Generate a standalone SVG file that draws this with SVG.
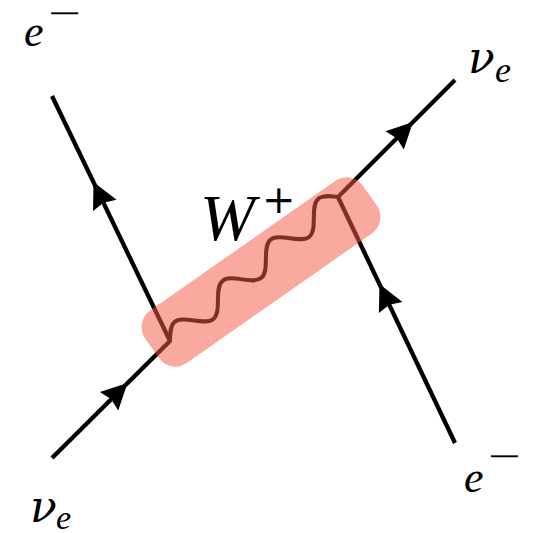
<svg xmlns="http://www.w3.org/2000/svg" width="541" height="533" viewBox="0 0 541 533">
  <defs>
    <style>
      .fermion { stroke: #000; stroke-width: 4.3; fill: none; stroke-linecap: butt; }
      .boson { stroke: #000; stroke-width: 4; fill: none; stroke-linecap: round; }
      .arrow { fill: #000; }
      .lbl { font-family: "Liberation Serif", "DejaVu Serif", serif; font-style: italic; fill: #000; }
      .greek { font-family: "DejaVu Serif", "Liberation Serif", serif; font-style: italic; fill: #000; }
      .sym { font-family: "DejaVu Serif", serif; font-style: normal; fill: #000; }
      .minus { font-family: "DejaVu Serif", serif; font-style: normal; fill: #000; stroke: #000; stroke-width: 0.4; }
    </style>
    <path id="arrowhead" d="M0,0 L-26,-13 L-23,0 L-26,13 Z"/>
  </defs>
  <rect width="541" height="533" fill="#fff"/>

  <g id="connectors">
    <line class="fermion" x1="52" y1="96" x2="170" y2="341"/>
    <line class="fermion" x1="52" y1="458" x2="170" y2="341"/>
    <line class="fermion" x1="338" y1="197" x2="455" y2="80"/>
    <line class="fermion" x1="338" y1="197" x2="455" y2="443"/>
    <path id="w-boson" class="boson" transform="translate(170,341) rotate(-40.6)" d="M0,0 C5.15,-5.89 10.07,-11.5 15.79,-11.5 S26.42,-5.89 31.57,0 S41.64,11.5 47.36,11.5 S57.99,5.89 63.14,0 S73.21,-11.5 78.93,-11.5 S89.56,-5.89 94.71,0 S104.78,11.5 110.5,11.5 S121.13,5.89 126.28,0 S136.35,-11.5 142.07,-11.5 S152.7,-5.89 157.85,0 S167.92,11.5 173.64,11.5 S184.27,5.89 189.42,0 S199.49,-11.5 205.21,-11.5 S215.84,-5.89 221.27,0"/>
    <use href="#arrowhead" class="arrow" transform="translate(93.5,182) rotate(-115.7)"/>
    <use href="#arrowhead" class="arrow" transform="translate(127.5,383) rotate(-44.8)"/>
    <use href="#arrowhead" class="arrow" transform="translate(379.5,284) rotate(-115.4)"/>
    <use href="#arrowhead" class="arrow" transform="translate(413,122) rotate(-45)"/>
  </g>

  <g id="highlight">
    <rect x="-133" y="-32" width="266" height="64" rx="20" ry="20" fill="#f55a47" fill-opacity="0.52" transform="translate(261,272) rotate(-35)"/>
  </g>

  <g id="label-e-top">
    <text class="lbl" x="24" y="45.5" font-size="44">e</text>
    <text class="minus" x="24.04" y="20" font-size="21" transform="scale(1.98,1)">−</text>
  </g>
  <g id="label-nu-top">
    <text class="greek" x="468" y="73.3" font-size="44">ν</text>
    <text class="lbl" x="495" y="81.5" font-size="36">e</text>
  </g>
  <g id="label-nu-bottom">
    <text class="greek" x="30" y="521.7" font-size="44">ν</text>
    <text class="lbl" x="56" y="528.5" font-size="34">e</text>
  </g>
  <g id="label-e-bottom">
    <text class="lbl" x="464" y="491.5" font-size="44">e</text>
    <text class="minus" x="246.1" y="463.4" font-size="21" transform="scale(1.98,1)">−</text>
  </g>
  <g id="label-W">
    <text class="lbl" x="200" y="240" font-size="66">W</text>
    <text class="sym" x="262" y="213" font-size="40">+</text>
  </g>
</svg>
